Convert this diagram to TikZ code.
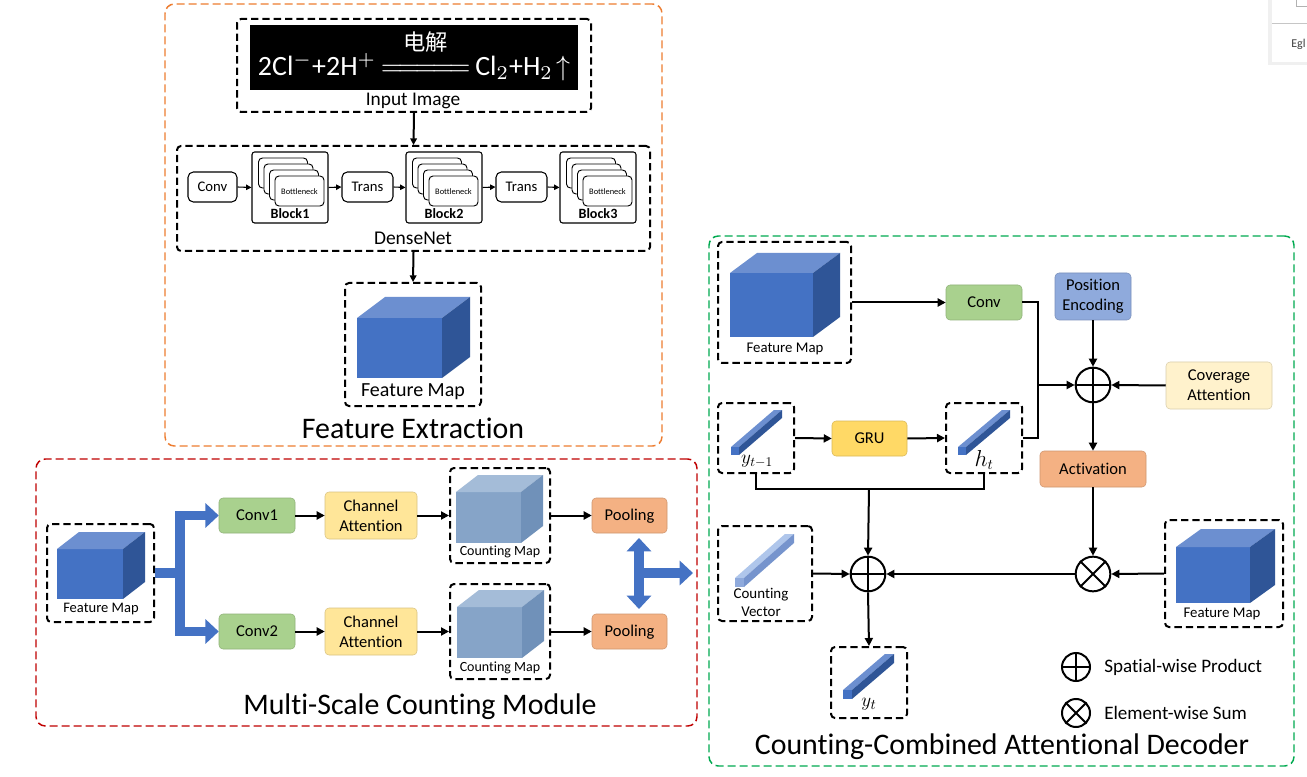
\documentclass[tikz,border=0pt]{standalone}
\usepackage{graphicx}
\usepackage{fontspec}
\setmainfont{Carlito}[Ligatures=NoCommon]
\newfontfamily\cjk{Noto Sans CJK SC}
\usetikzlibrary{arrows.meta,fit,calc}
\definecolor{orgC}{RGB}{237,125,49}
\definecolor{redC}{RGB}{192,0,0}
\definecolor{grnC}{RGB}{0,170,80}
\definecolor{cubeF}{RGB}{68,114,196}
\definecolor{cubeT}{RGB}{108,143,208}
\definecolor{cubeS}{RGB}{47,85,151}
\definecolor{cmF}{RGB}{134,164,200}
\definecolor{cmT}{RGB}{164,188,216}
\definecolor{cmS}{RGB}{112,145,185}
\definecolor{cvF}{RGB}{143,170,220}
\definecolor{cvT}{RGB}{175,198,235}
\definecolor{cvS}{RGB}{118,148,205}
\definecolor{gFill}{HTML}{A9D18E}
\definecolor{yFill}{HTML}{FFE699}
\definecolor{pFill}{HTML}{F4B183}
\definecolor{peFill}{HTML}{8FAADC}
\definecolor{covFill}{HTML}{FFF2CC}
\definecolor{gruFill}{HTML}{FFD966}
\newcommand{\fsz}[2]{\fontsize{#1}{#2}\selectfont}
\newcommand{\mycube}[7]{%
  \fill[#7F] (#1,#2) rectangle ++(#3,#4);
  \fill[#7T] (#1,#2) -- ++(#5,-#6) -- ++(#3,0) -- ++(-#5,#6) -- cycle;
  \fill[#7S] ({#1+#3},#2) -- ++(#5,-#6) -- ++(0,#4) -- ++(-#5,#6) -- cycle;}
\newcommand{\mybar}[6]{%
  \fill[#6T] (#1,{#2-#3}) -- ++(#4,-#5) -- ++(#3,0) -- ++(-#4,#5) -- cycle;
  \fill[#6S] ({#1+#3},#2) -- ++(0,-#3) -- ++(#4,-#5) -- ++(0,#3) -- cycle;
  \fill[#6F] (#1,#2) rectangle ++(#3,-#3);}
\tikzset{
  bigtip/.tip={Triangle[length=10pt,width=18pt]},
  sect/.style={draw, line width=1.1pt, dash pattern=on 6pt off 3pt, rounded corners=7pt, inner sep=0pt},
  dbox/.style={draw=black, line width=1.5pt, dash pattern=on 5.5pt off 3pt, rounded corners=3pt, inner sep=0pt},
  fbox/.style={rounded corners=3pt, inner sep=0pt},
  gbox/.style={fbox, fill=gFill, draw=gFill!85!black, line width=0.4pt},
  ybox/.style={fbox, fill=yFill, draw=yFill!85!black, line width=0.4pt},
  pbox/.style={fbox, fill=pFill, draw=pFill!85!black, line width=0.4pt},
  wbox/.style={draw=black, line width=0.8pt, rounded corners=4pt, inner sep=0pt},
  blk/.style={draw=black, line width=0.8pt, rounded corners=2pt, inner sep=0pt},
  arr/.style={line width=1.5pt, -{Triangle[length=6pt,width=6pt]}},
  arrs/.style={line width=0.8pt, -{Triangle[length=4pt,width=4pt]}},
  big/.style={draw=cubeF, line width=7pt, line join=miter},
  opc/.style={circle, draw=black, line width=1.5pt, inner sep=0pt, minimum size=26pt},
  lgc/.style={circle, draw=black, line width=1.5pt, inner sep=0pt, minimum size=21pt},
  lbl/.style={inner sep=0pt},
  btxt/.style={inner sep=0pt, align=center, font=\fsz{12.4pt}{15pt}},
  stxt/.style={inner sep=0pt, font=\fsz{11pt}{13pt}}
}
\begin{document}
\begin{tikzpicture}[x=0.75pt,y=-0.75pt]
\useasboundingbox (0,0) rectangle (1307,777);
\fill[white] (0,0) rectangle (1307,777);

% ---- screenshot fragment at top right
\fill[gray!12] (1268,0) rectangle (1307,65);
\fill[white] (1272,0) rectangle (1307,62);
\draw[gray!45, line width=0.6pt] (1272,23) -- (1307,23);
\draw[gray!60, line width=0.6pt] (1296,-2) rectangle (1310,6);
\node[lbl, font=\fsz{9pt}{10pt}, text=black!75, anchor=west] (egl) at (1291,44) {Egl};

% ---- sections
\node[sect, draw=orgC, fit={(165,4)(662,446)}] (fe) {};
\node[lbl, font=\fsz{22.4pt}{26pt}] (fet) at (413,428) {Feature Extraction};
\node[sect, draw=redC, fit={(36,459)(697,726)}] (ms) {};
\node[lbl, font=\fsz{22.4pt}{26pt}] (mst) at (420,707) {Multi-Scale Counting Module};
\node[sect, draw=grnC, fit={(709,236)(1294,766)}] (dec) {};
\node[lbl, font=\fsz{22.4pt}{26pt}] (dect) at (1002,747) {Counting-Combined Attentional Decoder};

% ---- feature extraction
\node[dbox, fit={(237,19)(591,112)}] (inbox) {};
\node[fill=black, inner sep=0pt, fit={(250,25)(578,90)}] (img) {};
\node[lbl, text=white] (eq) at (414,55) {\resizebox{234pt}{!}{2Cl$^{-}$+2H$^{+}$\,$\stackrel{\raisebox{3pt}{\mbox{\cjk\footnotesize 电解}}}{=\!=\!=\!=\!=}$\,Cl$_2$+H$_2\!\uparrow$}};
\node[lbl, font=\fsz{14.5pt}{16pt}] (inl) at (413,101) {Input Image};

\node[dbox, fit={(177,146)(650,251)}] (dn) {};
\node[lbl, font=\fsz{14.6pt}{16pt}] (dnl) at (413,238) {DenseNet};
\draw[line width=1.5pt, -{Triangle[length=5pt,width=5pt]}] (inbox.south) -- (dn.north);

\node[wbox, fit={(188,172)(237,202)}] (cv0) {};
\node[stxt] (cv0t) at (cv0) {Conv};
\node[wbox, fit={(342,172)(393,202)}] (tr1) {};
\node[stxt] (tr1t) at (tr1) {Trans};
\node[wbox, fit={(496,172)(547,202)}] (tr2) {};
\node[stxt] (tr2t) at (tr2) {Trans};
\node[blk, fit={(252,152)(328,223)}] (b1) {};
\node[blk, fit={(406,152)(482,223)}] (b2) {};
\node[blk, fit={(560,152)(636,223)}] (b3) {};
\foreach \bx/\bn in {252/1,406/2,560/3}{
  \foreach \i in {3,2,1,0}{
    \draw[fill=white, rounded corners=3pt, line width=0.7pt] ({\bx+23-5.5*\i},{176-6*\i}) rectangle ++(49,30);
  }
  \node[lbl, font=\fsz{6.3pt}{7pt}] (bt\bn) at ({\bx+47.5},192) {Bottleneck};
  \node[lbl, font=\bfseries\fsz{10.6pt}{12pt}] (bl\bn) at ({\bx+38},214) {Block\bn};
}
\draw[arrs] (cv0.east) -- (b1.west);
\draw[arrs] (b1.east) -- (tr1.west);
\draw[arrs] (tr1.east) -- (b2.west);
\draw[arrs] (b2.east) -- (tr2.west);
\draw[arrs] (tr2.east) -- (b3.west);

\node[dbox, fit={(345,283)(481,406)}] (fmt) {};
\mycube{357}{318}{85}{60}{28}{21}{cube}
\node[lbl, font=\fsz{15pt}{16pt}] (fmtl) at (413,392) {Feature Map};
\draw[line width=1.5pt, -{Triangle[length=5pt,width=5pt]}] (dn.south) -- (fmt.north);

% ---- multi-scale counting module
\node[dbox, fit={(47,524)(154,622)}] (fmm) {};
\mycube{57}{549}{66}{50}{22}{17}{cube}
\node[lbl, font=\fsz{10.9pt}{12pt}] (fmml) at (101,609) {Feature Map};

\node[gbox, fit={(219,498)(295,533)}] (c1) {};
\node[btxt] (c1t) at (c1) {Conv1};
\node[ybox, fit={(325,492)(417,539)}] (ca1) {};
\node[btxt] (ca1t) at (ca1) {Channel\\Attention};
\node[dbox, fit={(450,468)(550,563)}] (cm1) {};
\mycube{456}{492}{65}{51}{22}{17}{cm}
\node[lbl, font=\fsz{10.5pt}{12pt}] (cm1l) at (500,552) {Counting Map};
\node[pbox, fit={(592,498)(667,533)}] (po1) {};
\node[btxt] (po1t) at ($(po1)+(0,1)$) {Pooling};

\node[gbox, fit={(219,614)(295,649)}] (c2) {};
\node[btxt] (c2t) at (c2) {Conv2};
\node[ybox, fit={(325,608)(417,655)}] (ca2) {};
\node[btxt] (ca2t) at (ca2) {Channel\\Attention};
\node[dbox, fit={(450,584)(550,679)}] (cm2) {};
\mycube{457}{607}{65}{51}{22}{17}{cm}
\node[lbl, font=\fsz{10.5pt}{12pt}] (cm2l) at (500,668) {Counting Map};
\node[pbox, fit={(592,614)(667,649)}] (po2) {};
\node[btxt] (po2t) at ($(po2)+(0,1)$) {Pooling};

\draw[arr] (c1.east) -- (ca1.west);
\draw[arr] (ca1.east) -- (cm1.west);
\draw[arr] (cm1.east) -- (po1.west);
\draw[arr] (c2.east) -- (ca2.west);
\draw[arr] (ca2.east) -- (cm2.west);
\draw[arr] (cm2.east) -- (po2.west);

\coordinate (bt) at (180,515.5);
\coordinate (bb) at (180,631.5);
\coordinate (bm) at (180,573);
\draw[big] (fmm.east) -- (bm);
\draw[big, bigtip-bigtip] (c1.west) -- (bt) -- (bb) -- (c2.west);
\coordinate (da1) at (639,538);
\coordinate (da2) at (639,609);
\coordinate (dm) at (639,573);
\coordinate (dout) at (693,573);
\draw[big, bigtip-bigtip] (da1) -- (da2);
\draw[big, -bigtip] (dm) -- (dout);

% ---- decoder
\node[dbox, fit={(718,242)(851,363)}] (fmd) {};
\mycube{730}{273}{83}{64}{27}{20}{cube}
\node[lbl, font=\fsz{11.1pt}{12pt}] (fmdl) at (785,349) {Feature Map};
\node[gbox, fit={(946,285)(1022,320)}] (cvd) {};
\node[btxt] (cvdt) at (cvd) {Conv};
\node[fbox, fill=peFill, draw=peFill!85!black, line width=0.4pt, fit={(1055,273)(1131,320)}] (pe) {};
\node[btxt] (pet) at (pe) {Position\\Encoding};
\node[opc] (p1) at (1093,385) {};
\draw[line width=1.5pt] (p1.north) -- (p1.south) (p1.west) -- (p1.east);
\node[fbox, fill=covFill, draw=covFill!85!black, line width=0.4pt, fit={(1166,362)(1272,409)}] (cov) {};
\node[btxt] (covt) at (cov) {Coverage\\Attention};
\node[pbox, fit={(1040,451)(1146,487)}] (act) {};
\node[btxt] (actt) at (act) {Activation};

\node[dbox, fit={(718,403)(794,473)}] (yb) {};
\mybar{731}{455}{8}{43}{37}{cube}
\node[lbl, font=\fsz{14.5pt}{15pt}] (ybl) at (757,461) {$y_{t-1}$};
\node[fbox, fill=gruFill, draw=gruFill!85!black, line width=0.4pt, fit={(832,421)(907,456)}] (gru) {};
\node[btxt] (grut) at (gru) {GRU};
\node[dbox, fit={(946,403)(1022,473)}] (hb) {};
\mybar{958}{455}{8}{44}{37}{cube}
\node[lbl, font=\fsz{16pt}{17pt}] (hbl) at (984,460) {$h_t$};

\node[dbox, fit={(718,526)(812,621)}] (cvb) {};
\mybar{735}{587}{9}{50}{44}{cv}
\node[lbl, font=\fsz{11.2pt}{13.5pt}, align=center] (cvbl) at (761,602) {Counting\\Vector};
\node[opc] (p2) at (868,574) {};
\draw[line width=1.5pt] (p2.north) -- (p2.south) (p2.west) -- (p2.east);
\node[opc] (x1) at (1093,574) {};
\draw[line width=1.5pt] (x1.north west) -- (x1.south east) (x1.north east) -- (x1.south west);
\node[dbox, fit={(1165,520)(1283,627)}] (fmr) {};
\mycube{1176}{547}{74}{56}{25}{18}{cube}
\node[lbl, font=\fsz{11.1pt}{12pt}] (fmrl) at (1222,614) {Feature Map};
\node[dbox, fit={(831,647)(907,718)}] (yt) {};
\mybar{843}{699}{9}{42}{36}{cube}
\node[lbl, font=\fsz{15.5pt}{16pt}] (ytl) at (869,704) {$y_t$};

\coordinate (j) at (1038,385);
\coordinate (m) at (869,489);
\draw[arr] (fmd.east) -- (cvd.west);
\draw[arr] (cvd.east) -| (j) -- (p1.west);
\draw[line width=1.5pt] (hb.east) -| (j);
\draw[arr] (pe.south) -- (p1.north);
\draw[arr] (cov.west) -- (p1.east);
\draw[arr] (p1.south) -- (act.north);
\draw[arr] (yb.east) -- (gru.west);
\draw[arr] (gru.east) -- (hb.west);
\draw[line width=1.5pt] (yb.south) |- (m) -| (hb.south);
\draw[arr] (m) -- (p2.north);
\draw[arr] (act.south) -- (x1.north);
\draw[arr] (fmr.west) -- (x1.east);
\draw[arr] (x1.west) -- (p2.east);
\draw[arr] (cvb.east) -- (p2.west);
\draw[arr] (p2.south) -- (yt.north);

% ---- legend
\node[lgc] (lg1) at (1076,667) {};
\draw[line width=1.5pt] (lg1.north) -- (lg1.south) (lg1.west) -- (lg1.east);
\node[lgc] (lg2) at (1076,713) {};
\draw[line width=1.5pt] (lg2.north west) -- (lg2.south east) (lg2.north east) -- (lg2.south west);
\node[lbl, anchor=west, font=\fsz{14.3pt}{16pt}] (lg1t) at (1104,667) {Spatial-wise Product};
\node[lbl, anchor=west, font=\fsz{14.3pt}{16pt}] (lg2t) at (1104,713) {Element-wise Sum};
\end{tikzpicture}
\end{document}
